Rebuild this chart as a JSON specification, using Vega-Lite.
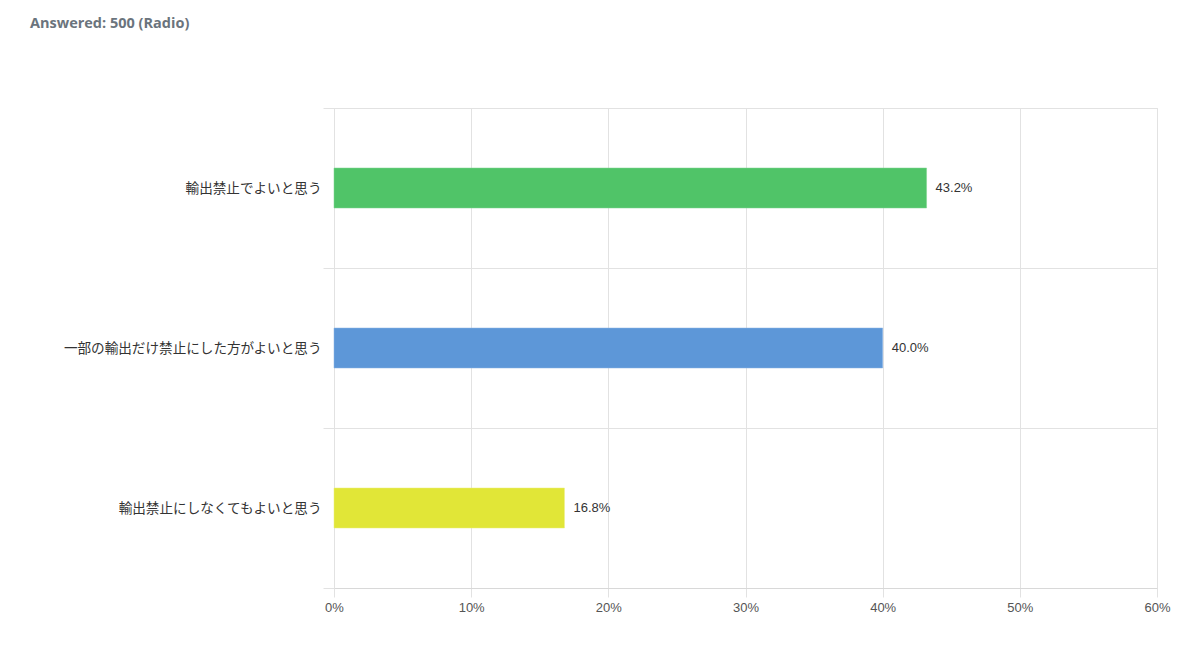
{
  "$schema": "https://vega.github.io/schema/vega-lite/v6.json",
  "autosize": "none",
  "width": 823,
  "height": 480,
  "padding": {"left": 334, "top": 108, "right": 37, "bottom": 59},
  "background": "white",
  "title": {
    "text": "Answered: 500 (Radio)",
    "anchor": "start",
    "frame": "group",
    "dx": -304,
    "offset": 70,
    "font": "Open Sans",
    "fontSize": 14.5,
    "fontWeight": "bold",
    "color": "#6b747d"
  },
  "data": {
    "values": [
      {"answer": "輸出禁止でよいと思う", "pct": 0.432, "label": "43.2%"},
      {"answer": "一部の輸出だけ禁止にした方がよいと思う", "pct": 0.400, "label": "40.0%"},
      {"answer": "輸出禁止にしなくてもよいと思う", "pct": 0.168, "label": "16.8%"}
    ]
  },
  "encoding": {
    "y": {
      "field": "answer",
      "type": "nominal",
      "sort": null,
      "scale": {"paddingInner": 0, "paddingOuter": 0},
      "axis": {
        "title": null,
        "tickBand": "extent",
        "grid": true,
        "gridColor": "#e2e2e2",
        "tickColor": "#e2e2e2",
        "tickSize": 11,
        "domain": false,
        "labelPadding": 2,
        "labelFont": "Noto Sans CJK JP",
        "labelFontSize": 13.6,
        "labelColor": "#333333",
        "labelLimit": 400
      }
    },
    "x": {
      "field": "pct",
      "type": "quantitative",
      "scale": {"domain": [0, 0.6]},
      "axis": {
        "title": null,
        "format": ".0%",
        "values": [0, 0.1, 0.2, 0.3, 0.4, 0.5, 0.6],
        "grid": true,
        "gridColor": "#e2e2e2",
        "tickColor": "#e2e2e2",
        "domainColor": "#d8d8d8",
        "tickSize": 9,
        "labelPadding": 4,
        "labelFlush": false,
        "labelFont": "Liberation Sans",
        "labelFontSize": 13,
        "labelColor": "#555555"
      }
    }
  },
  "layer": [
    {
      "mark": {"type": "bar", "height": {"band": 0.25}, "strokeWidth": 1, "strokeOpacity": 0.5},
      "encoding": {
        "color": {
          "field": "answer",
          "type": "nominal",
          "sort": null,
          "scale": {"range": ["#50c468", "#5d97d8", "#e1e637"]},
          "legend": null
        },
        "stroke": {
          "field": "answer",
          "type": "nominal",
          "sort": null,
          "scale": {"range": ["#7dd690", "#8cb6e6", "#ecef7a"]},
          "legend": null
        }
      }
    },
    {
      "mark": {"type": "text", "align": "left", "dx": 9, "font": "Liberation Sans", "fontSize": 13, "color": "#333333"},
      "encoding": {"text": {"field": "label"}}
    }
  ]
}
